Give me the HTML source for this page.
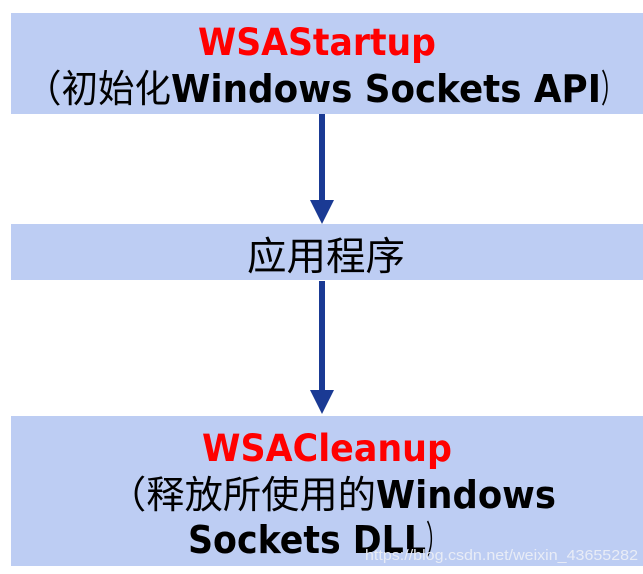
<!DOCTYPE html>
<html><head><meta charset="utf-8"><style>html,body{margin:0;padding:0;background:#fff}svg{display:block}</style></head>
<body>
<svg width="643" height="574" xmlns="http://www.w3.org/2000/svg">
<rect x="11" y="13" width="632" height="101" fill="#bdcdf3"/>
<rect x="11" y="224" width="632" height="56" fill="#bdcdf3"/>
<rect x="11" y="416" width="632" height="150" fill="#bdcdf3"/>
<rect x="319" y="114" width="6" height="88" fill="#1a3a94"/>
<polygon points="310,200 334,200 322,224" fill="#1a3a94"/>
<rect x="319" y="281" width="6" height="111" fill="#1a3a94"/>
<polygon points="310,390 334,390 322,414" fill="#1a3a94"/>
<g font-family="'DejaVu Sans','Liberation Sans',sans-serif" font-weight="bold">
<text x="198" y="55" font-size="37" fill="#ff0000" textLength="238" lengthAdjust="spacingAndGlyphs">WSAStartup</text>
<text x="171" y="102" font-size="38" fill="#000" textLength="430" lengthAdjust="spacingAndGlyphs">Windows Sockets API</text>
<text x="202" y="461" font-size="37" fill="#ff0000" textLength="250" lengthAdjust="spacingAndGlyphs">WSACleanup</text>
<text x="376" y="508" font-size="38" fill="#000" textLength="180" lengthAdjust="spacingAndGlyphs">Windows</text>
<text x="188" y="553" font-size="38" fill="#000" textLength="238" lengthAdjust="spacingAndGlyphs">Sockets DLL</text>
</g>
<g font-family="'Noto Sans CJK SC','WenQuanYi Zen Hei',sans-serif" fill="#000">
<text x="25" y="102" font-size="38" textLength="146" lengthAdjust="spacingAndGlyphs">（初始化</text>
<text x="601" y="102" font-size="38" textLength="22" lengthAdjust="spacingAndGlyphs">）</text>
<text x="247" y="270" font-size="39" textLength="158" lengthAdjust="spacingAndGlyphs">应用程序</text>
<text x="108" y="508" font-size="38" textLength="268" lengthAdjust="spacingAndGlyphs">（释放所使用的</text>
<text x="426" y="553" font-size="38" textLength="20" lengthAdjust="spacingAndGlyphs">）</text>
</g>
<text x="365" y="560" font-family="'Liberation Sans',sans-serif" font-size="15" fill="#e8ecf6" textLength="273" lengthAdjust="spacingAndGlyphs">https://blog.csdn.net/weixin_43655282</text>
</svg>
</body></html>
